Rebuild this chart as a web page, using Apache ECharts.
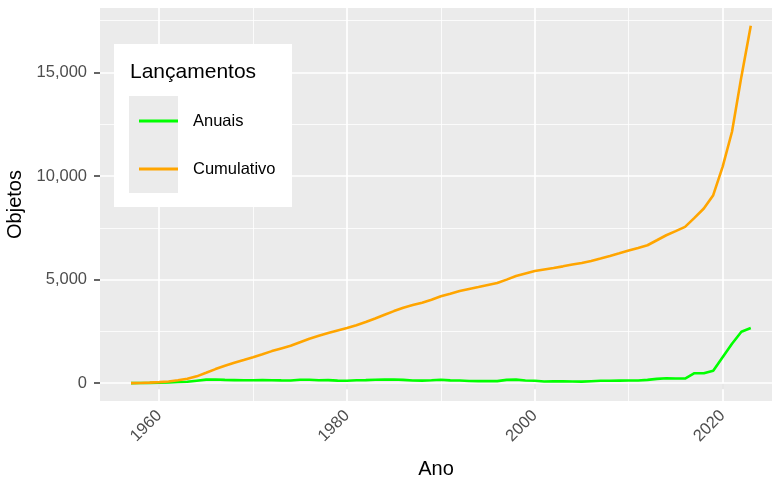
<!DOCTYPE html>
<html>
<head>
<meta charset="utf-8">
<script src="https://cdn.jsdelivr.net/npm/echarts@6/dist/echarts.min.js"></script>
<style>
    html, body { margin: 0; padding: 0; background: #fff; }
    #chart { width: 772px; height: 479px; }
</style>
</head>
<body>
<div id="chart"></div>
<script>
var years = [1957, 1958, 1959, 1960, 1961, 1962, 1963, 1964, 1965, 1966,
    1967, 1968, 1969, 1970, 1971, 1972, 1973, 1974, 1975, 1976,
    1977, 1978, 1979, 1980, 1981, 1982, 1983, 1984, 1985, 1986,
    1987, 1988, 1989, 1990, 1991, 1992, 1993, 1994, 1995, 1996,
    1997, 1998, 1999, 2000, 2001, 2002, 2003, 2004, 2005, 2006,
    2007, 2008, 2009, 2010, 2011, 2012, 2013, 2014, 2015, 2016,
    2017, 2018, 2019, 2020, 2021, 2022, 2023];

// lançamentos por ano
var annual = [2, 8, 15, 25, 35, 60, 70, 120, 170, 175,
    160, 150, 140, 140, 150, 145, 135, 130, 165, 165,
    145, 150, 125, 120, 140, 150, 165, 170, 175, 160,
    130, 125, 140, 165, 135, 130, 105, 100, 100, 100,
    160, 170, 130, 120, 80, 85, 85, 80, 75, 95,
    115, 120, 125, 130, 130, 160, 210, 240, 225, 225,
    480, 480, 600, 1257, 1905, 2485, 2660];

// total acumulado
var cumulative = [2, 10, 25, 50, 85, 140, 210, 330, 500, 680,
    840, 985, 1120, 1257, 1400, 1548, 1680, 1808, 1980, 2147,
    2290, 2418, 2540, 2660, 2800, 2950, 3120, 3307, 3480, 3646,
    3770, 3888, 4030, 4193, 4320, 4449, 4550, 4643, 4740, 4836,
    5000, 5174, 5300, 5416, 5490, 5561, 5640, 5725, 5803, 5900,
    6020, 6141, 6270, 6402, 6530, 6659, 6900, 7142, 7340, 7544,
    7979, 8434, 9077, 10445, 12137, 14797, 17249];

var xTicks = [1960, 1980, 2000, 2020];
var xMinor = [1970, 1990, 2010];
var yTicks = [0, 5000, 10000, 15000];
var yMinor = [2500, 7500, 12500, 17500];

var FONT = "'Liberation Sans', Arial, sans-serif";

function pairs(xs, ys) {
    var out = [];
    for (var i = 0; i < xs.length; i++) {
        out.push([xs[i], ys[i]]);
    }
    return out;
}

function gridLines() {
    var lines = [];
    var i;
    for (i = 0; i < yMinor.length; i++) lines.push({yAxis: yMinor[i], lineStyle: {width: 0.8}});
    for (i = 0; i < xMinor.length; i++) lines.push({xAxis: xMinor[i], lineStyle: {width: 0.8}});
    for (i = 0; i < yTicks.length; i++) lines.push({yAxis: yTicks[i], lineStyle: {width: 1.7}});
    for (i = 0; i < xTicks.length; i++) lines.push({xAxis: xTicks[i], lineStyle: {width: 1.7}});
    return lines;
}

var chart = echarts.init(document.getElementById('chart'), null, {renderer: 'canvas'});

var option = {
    animation: false,
    textStyle: {fontFamily: FONT},
    grid: {
        left: 100,
        right: 0,
        top: 8,
        bottom: 78,
        show: true,
        backgroundColor: '#EBEBEB',
        borderWidth: 0,
        outerBoundsMode: 'none',
        containLabel: false
    },
    xAxis: {
        type: 'value',
        min: 1953.7,
        max: 2025.26,
        name: 'Ano',
        nameLocation: 'middle',
        nameGap: 58,
        nameTextStyle: {color: '#000', fontSize: 20, fontFamily: FONT},
        axisLine: {show: false},
        splitLine: {show: false},
        axisTick: {show: true, customValues: xTicks, length: 6, lineStyle: {color: '#333', width: 1.5}},
        axisLabel: {
            customValues: xTicks,
            rotate: 45,
            margin: 12,
            color: '#4D4D4D',
            fontSize: 16.5,
            fontFamily: FONT,
            formatter: function (v) { return String(v); }
        }
    },
    yAxis: {
        type: 'value',
        min: -860,
        max: 18111,
        name: 'Objetos',
        nameLocation: 'middle',
        nameGap: 74,
        nameTextStyle: {color: '#000', fontSize: 20, fontFamily: FONT},
        axisLine: {show: false},
        splitLine: {show: false},
        axisTick: {show: true, customValues: yTicks, length: 6, lineStyle: {color: '#333', width: 1.5}},
        axisLabel: {
            customValues: yTicks,
            margin: 13,
            color: '#4D4D4D',
            fontSize: 16.5,
            fontFamily: FONT,
            formatter: function (v) { return v.toLocaleString('en-US'); }
        }
    },
    legend: {
        data: ['Anuais', 'Cumulativo'],
        orient: 'vertical',
        left: 134,
        top: 106,
        icon: 'rect',
        itemWidth: 39,
        itemHeight: 3,
        itemGap: 28,
        selectedMode: false,
        z: 10,
        textStyle: {color: '#000', fontSize: 16.5, fontFamily: FONT, lineHeight: 20, padding: [0, 0, 0, 10]}
    },
    graphic: [
        {type: 'rect', z: 5, shape: {x: 114, y: 44, width: 178, height: 163}, style: {fill: '#fff'}},
        {type: 'rect', z: 6, shape: {x: 129, y: 96, width: 49, height: 97}, style: {fill: '#EBEBEB'}},
        {type: 'text', z: 7, x: 130, y: 72, style: {text: 'Lançamentos', fill: '#000', font: '21px ' + FONT, verticalAlign: 'middle'}}
    ],
    series: [
        {
            name: 'grade',
            type: 'line',
            z: 1,
            silent: true,
            data: [[years[0], 0]],
            showSymbol: false,
            lineStyle: {opacity: 0},
            markLine: {
                silent: true,
                symbol: 'none',
                animation: false,
                label: {show: false},
                lineStyle: {color: '#fff', type: 'solid'},
                emphasis: {disabled: true},
                data: gridLines()
            }
        },
        {
            name: 'Anuais',
            type: 'line',
            zlevel: 1,
            z: 3,
            data: pairs(years, annual),
            showSymbol: false,
            color: '#00FF00',
            lineStyle: {width: 2.6, color: '#00FF00'}
        },
        {
            name: 'Cumulativo',
            type: 'line',
            zlevel: 1,
            z: 4,
            data: pairs(years, cumulative),
            showSymbol: false,
            color: '#FFA500',
            lineStyle: {width: 2.6, color: '#FFA500'}
        }
    ]
};

chart.setOption(option);
</script>
</body>
</html>
